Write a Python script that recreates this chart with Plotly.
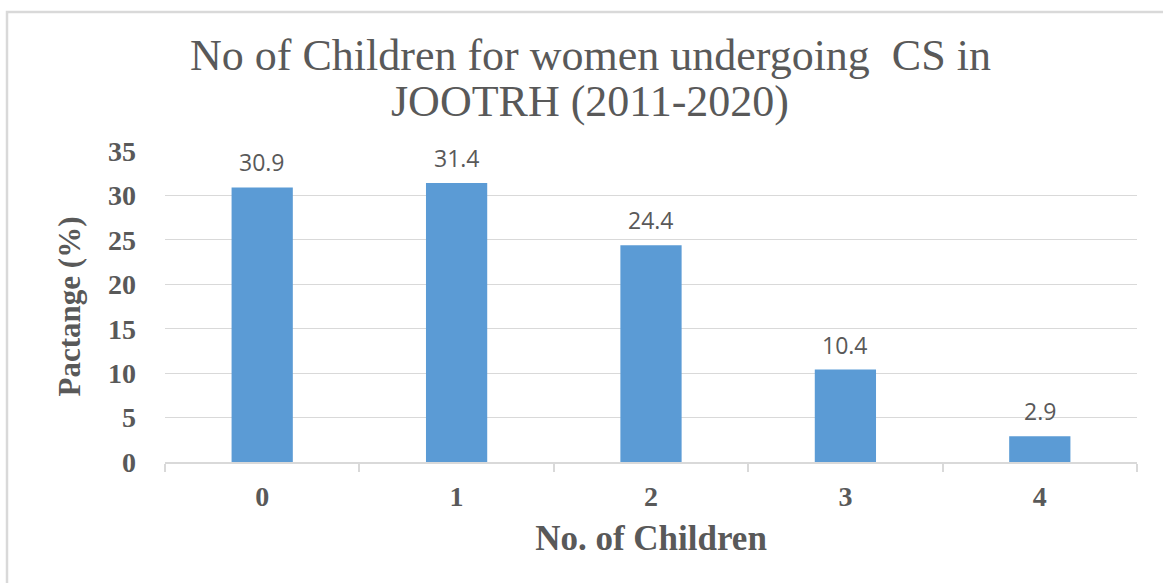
import plotly.graph_objects as go

children = ["0", "1", "2", "3", "4"]
percentage = [30.9, 31.4, 24.4, 10.4, 2.9]
y_ticks = [0, 5, 10, 15, 20, 25, 30, 35]
title_lines = ["No of Children for women undergoing  CS in", "JOOTRH (2011-2020)"]

W, H = 1163, 583
L, R, T, B = 165, 26, 151, 121
pw, ph = W - L - R, H - T - B

grey = "#595959"
serif = "Liberation Serif, Times New Roman, serif"
sans = "Open Sans, Liberation Sans, sans-serif"

fig = go.Figure(
    go.Bar(
        x=children,
        y=percentage,
        marker=dict(color="#5B9BD5", line=dict(width=0)),
    )
)

# value labels above each bar
annotations = [
    dict(
        x=c,
        y=v,
        xref="x",
        yref="y",
        text=f"{v:.1f}",
        showarrow=False,
        yanchor="bottom",
        yshift=7,
        font=dict(family=sans, size=23, color=grey),
    )
    for c, v in zip(children, percentage)
]

# two-line chart title, centred on the chart area
for i, line in enumerate(title_lines):
    annotations.append(
        dict(
            x=(590 - L) / pw,
            y=1 + (T - (56 + 45 * i)) / ph,
            xref="paper",
            yref="paper",
            text=line,
            showarrow=False,
            xanchor="center",
            yanchor="middle",
            font=dict(family=serif, size=44, color=grey),
        )
    )

fig.update_layout(
    width=W,
    height=H,
    margin=dict(l=L, r=R, t=T, b=B),
    paper_bgcolor="white",
    plot_bgcolor="white",
    bargap=0.685,
    showlegend=False,
    annotations=annotations,
    xaxis=dict(
        type="category",
        tickson="boundaries",
        ticks="outside",
        ticklen=8,
        tickcolor="#D9D9D9",
        tickwidth=1.5,
        showline=True,
        linecolor="#D9D9D9",
        linewidth=1.5,
        showgrid=False,
        ticklabelstandoff=9,
        tickfont=dict(family=serif, size=28, color=grey, weight="bold"),
        title=dict(
            text="No. of Children",
            font=dict(family=serif, size=35, color=grey, weight="bold"),
            standoff=14,
        ),
    ),
    yaxis=dict(
        range=[0, 35],
        tickvals=y_ticks,
        showgrid=True,
        gridcolor="#D9D9D9",
        gridwidth=1.2,
        zeroline=False,
        showline=False,
        ticks="",
        ticklabelstandoff=28,
        tickfont=dict(family=serif, size=28, color=grey, weight="bold"),
        title=dict(
            text="Pactange (%)",
            font=dict(family=serif, size=31, color=grey, weight="bold"),
            standoff=18,
        ),
    ),
    shapes=[
        dict(
            type="rect",
            xref="paper",
            yref="paper",
            x0=(7 - L) / pw,
            x1=(W + 10 - L) / pw,
            y0=-(H + 10 - T - ph) / ph,
            y1=1 + (T - 12) / ph,
            line=dict(color="#D9D9D9", width=2.5),
            fillcolor="rgba(0,0,0,0)",
            layer="below",
        )
    ],
)

fig.write_html("out.html")
